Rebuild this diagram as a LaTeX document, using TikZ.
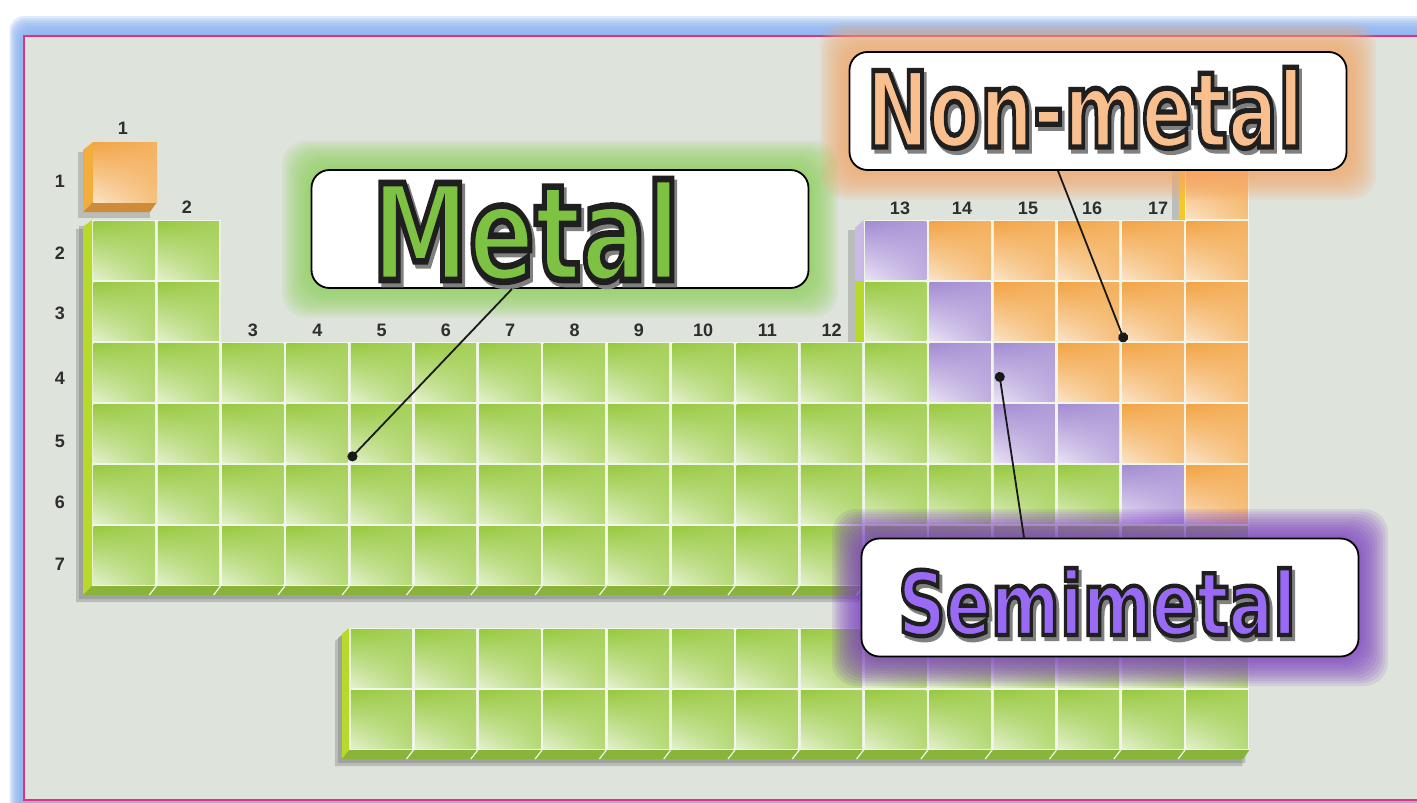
\documentclass[tikz,border=0pt]{standalone}
\usepackage{fontspec}
\usetikzlibrary{arrows.meta,shadings}
\newfontfamily\tagfont{DejaVu Sans Bold}[FakeBold=5]
\newfontfamily\numfont{Liberation Sans}

\definecolor{metalstrong}{HTML}{97C93F}
\definecolor{metallight}{HTML}{E3F1CC}
\definecolor{nonstrong}{HTML}{F2A444}
\definecolor{nonlight}{HTML}{FBE3C6}
\definecolor{semistrong}{HTML}{A38CD2}
\definecolor{semilight}{HTML}{EAE2F5}
\definecolor{boardgray}{HTML}{DEE3DB}
\definecolor{gapwhite}{HTML}{F1F5EA}
\definecolor{framepink}{HTML}{E0327E}
\definecolor{framehaze}{HTML}{8FB4F0}
\definecolor{metalglow}{HTML}{8ED15A}
\definecolor{nonglow}{HTML}{F5A86A}
\definecolor{semiglow}{HTML}{7A3CC0}
\definecolor{numgray}{HTML}{2E2E2E}

\pgfdeclarelayer{board}
\pgfdeclarelayer{haze}
\pgfsetlayers{board,haze,main}

% word filled with #1 (rgb), stroked dark, gray drop shadow
\newcommand\rimtext[2]{%
  \rlap{\hspace*{4pt}\raisebox{-4pt}{\special{pdf:bcolor [0.5 0.5 0.5] [0.5 0.5 0.5]}#2\special{pdf:ecolor}}}%
  \special{pdf:bcolor [#1] [0.12 0.12 0.12]}#2\special{pdf:ecolor}}

\begin{document}
\begin{tikzpicture}[x=1pt,y=-1pt,
  greentile/.style={upper left=metalstrong, upper right=metalstrong!85!white, lower left=metallight, lower right=metalstrong!70!white},
  orangetile/.style={upper left=nonstrong, upper right=nonstrong!85!white, lower left=nonlight, lower right=nonstrong!70!white},
  purpletile/.style={upper left=semistrong, upper right=semistrong!85!white, lower left=semilight, lower right=semistrong!70!white},
  tileshadow/.style={fill=black!60, opacity=0.3},
  sideedge/.style={fill=metalstrong!70!yellow},
  footedge/.style={fill=metalstrong!90!black},
  seam/.style={draw=gapwhite, line width=1.2pt},
  numlabel/.style={font=\numfont\bfseries\fontsize{18}{18}\selectfont, text=numgray, inner sep=0},
  labelbox/.style={draw=black, fill=white, line width=1.8pt, rounded corners=18pt, minimum width=497pt, minimum height=118pt, inner sep=0},
  word/.style={inner sep=0, anchor=base},
  lead/.style={draw=black!90, line width=1.8pt, -{Circle[length=10pt]}}]
\useasboundingbox (0,0) rectangle (1417,803);

\begin{pgfonlayer}{board}
% Backdrop and frame
\fill[white] (0,0) rectangle (1417,803);
\foreach \g in {0,...,9}
  \fill[framehaze, opacity=0.28, rounded corners=14pt] ({24-1.6*\g},{36-2.2*\g}) rectangle (1450,830);
\fill[boardgray] (24,36) rectangle (1450,800);
\draw[framepink, line width=1.5pt] (1450,36) -- (24,36) -- (24,800) -- (1450,800);

% Main table: shadow, edges, gaps
\foreach \s in {4,7}
  \fill[tileshadow, shift={(-\s,\s)}] (83,222) -- (220.6,220) -- (220.6,342) -- (863.6,342) -- (863.6,220) -- (1249.4,220) -- (1249.4,595) -- (83,595) -- cycle;
\fill[gapwhite] (92,220) -- (220.6,220) -- (220.6,342) -- (863.6,342) -- (863.6,220) -- (1249.4,220) -- (1249.4,586) -- (92,586) -- cycle;
\fill[sideedge] (83,227) -- (92,220) -- (92,586) -- (83,595) -- cycle;
\fill[footedge] (83,595) -- (92,586) -- (1249.4,586) -- (1243,595) -- cycle;
\foreach \c in {1,...,17}
  \draw[seam] ({92+\c*64.3},586) -- ({92+\c*64.3-7},595);
% step at group 13
\fill[black!40, opacity=0.5] (848,230) rectangle (856,342);
\fill[semistrong!60!white] (855,228) -- (863.6,220) -- (863.6,281) -- (855,281) -- cycle;
\fill[sideedge] (855,281) rectangle (863.6,342);

% Hydrogen cube
\fill[tileshadow] (78,152) rectangle (150,218);
\fill[nonstrong!90!yellow] (83,150) -- (93,142) -- (93,202) -- (83,212) -- cycle;
\fill[nonstrong!85!black] (83,212) -- (93,202) -- (157,202) -- (150,212) -- cycle;
\shade[orangetile] (93,142) rectangle (157,202);

% Helium tile
\fill[black!35, opacity=0.6] (1172,166) rectangle (1180,220);
\fill[nonstrong!60!yellow] (1179,164) -- (1185.1,159) -- (1185.1,220) -- (1179,220) -- cycle;
\fill[gapwhite] (1185.1,159) rectangle (1249.4,220);

% Tiles
\foreach \c/\r in {1/2,2/2,1/3,2/3,13/3}
  \shade[greentile] ({92+(\c-1)*64.3+1.6},{220+(\r-2)*61+1.6}) rectangle ({92+\c*64.3-1.6},{220+(\r-1)*61-1.6});
\foreach \r in {4,...,7}
  \foreach \c in {1,...,18}
    \shade[greentile] ({92+(\c-1)*64.3+1.6},{220+(\r-2)*61+1.6}) rectangle ({92+\c*64.3-1.6},{220+(\r-1)*61-1.6});
\foreach \c/\r in {18/1,14/2,15/2,16/2,17/2,18/2,15/3,16/3,17/3,18/3,16/4,17/4,18/4,17/5,18/5,18/6}
  \shade[orangetile] ({92+(\c-1)*64.3+1.6},{220+(\r-2)*61+1.6}) rectangle ({92+\c*64.3-1.6},{220+(\r-1)*61-1.6});
\foreach \c/\r in {13/2,14/3,14/4,15/4,15/5,16/5,17/6}
  \shade[purpletile] ({92+(\c-1)*64.3+1.6},{220+(\r-2)*61+1.6}) rectangle ({92+\c*64.3-1.6},{220+(\r-1)*61-1.6});

% Lanthanide rows
\foreach \s in {4,7}
  \fill[tileshadow, shift={(-\s,\s)}] (342,634) -- (349.2,628) -- (1249.4,628) -- (1249.4,759) -- (342,759) -- cycle;
\fill[gapwhite] (349.2,628) rectangle (1249.4,750);
\fill[sideedge] (342,634) -- (349.2,628) -- (349.2,750) -- (342,759) -- cycle;
\fill[footedge] (342,759) -- (349.2,750) -- (1249.4,750) -- (1243,759) -- cycle;
\foreach \c in {5,...,17}
  \draw[seam] ({92+\c*64.3},750) -- ({92+\c*64.3-7},759);
\foreach \r in {0,1}
  \foreach \c in {5,...,18}
    \shade[greentile] ({92+(\c-1)*64.3+1.6},{628+\r*61+1.6}) rectangle ({92+\c*64.3-1.6},{628+(\r+1)*61-1.6});

% Group numbers
\node[numlabel] (g1) at (123,128) {1};
\node[numlabel] (g2) at (187,207) {2};
\foreach \g in {3,...,12}
  \node[numlabel] (g\g) at ({253+(\g-3)*64.3},330) {\g};
\foreach \g/\x in {13/900,14/962,15/1028,16/1092,17/1158}
  \node[numlabel] (g\g) at (\x,208) {\g};
% Period numbers
\foreach \p/\y in {1/181,2/253,3/313,4/378,5/441,6/502,7/564}
  \node[numlabel] (p\p) at (60,\y) {\p};
\end{pgfonlayer}

% Label boxes
\node[labelbox] (metal) at (560,229) {};
\node[labelbox] (nonmetal) at (1098,111) {};
\node[labelbox] (semimetal) at (1110,597.5) {};

\node[word, font=\tagfont\fontsize{133}{133}\selectfont] (metaltext) at (526,280)
  {\resizebox{308pt}{\height}{\rimtext{0.49 0.76 0.26}{Metal}}};
\node[word, font=\tagfont\fontsize{105}{105}\selectfont] (nonmetaltext) at (1085,147)
  {\resizebox{437pt}{\height}{\rimtext{0.98 0.75 0.56}{Non-metal}}};
\node[word, font=\tagfont\fontsize{88}{88}\selectfont] (semimetaltext) at (1097,635)
  {\resizebox{398pt}{\height}{\rimtext{0.60 0.42 0.96}{Semimetal}}};

% Glow round the boxes
\begin{pgfonlayer}{haze}
\foreach \g in {1,...,11}{
  \fill[metalglow, opacity=0.12, rounded corners=24pt] ([shift={(-2.6*\g,-2.6*\g)}]metal.north west) rectangle ([shift={(2.6*\g,2.6*\g)}]metal.south east);
  \fill[nonglow, opacity=0.12, rounded corners=24pt] ([shift={(-2.6*\g,-2.6*\g)}]nonmetal.north west) rectangle ([shift={(2.6*\g,2.6*\g)}]nonmetal.south east);
  \fill[semiglow, opacity=0.12, rounded corners=24pt] ([shift={(-2.6*\g,-2.6*\g)}]semimetal.north west) rectangle ([shift={(2.6*\g,2.6*\g)}]semimetal.south east);
}
\end{pgfonlayer}

% Leader lines
\coordinate (metaldot) at (349,460);
\coordinate (nonmetaldot) at (1125,342);
\coordinate (semimetaldot) at (999,372);
\draw[lead] ([xshift=-48pt]metal.south) -- (metaldot);
\draw[lead] ([xshift=-40pt]nonmetal.south) -- (nonmetaldot);
\draw[lead] ([xshift=-86pt]semimetal.north) -- (semimetaldot);
\end{tikzpicture}
\end{document}
